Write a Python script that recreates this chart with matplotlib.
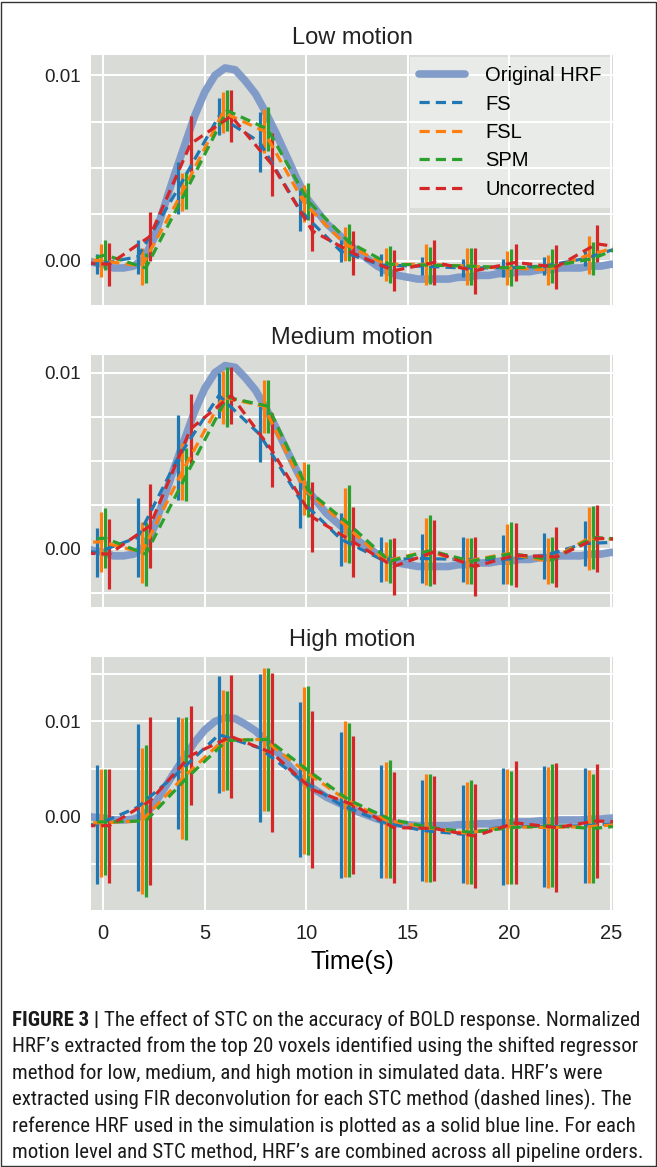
import numpy as np
import matplotlib
matplotlib.use('Agg')
import matplotlib.pyplot as plt
from matplotlib.patches import Rectangle

plt.rcParams['font.family'] = ['Liberation Sans', 'DejaVu Sans']

# FIR time points (s); points at -2 and 26 only show as line ends past the edges
t = [-2, 0, 2, 4, 6, 8, 10, 12, 14, 16, 18, 20, 22, 24, 26]
offsets = [-0.3, -0.1, 0.1, 0.3]
methods = ['FS', 'FSL', 'SPM', 'Uncorrected']
colors = ['#1f77b4', '#ff7f0e', '#2ca02c', '#d62728']

# reference HRF, read every 0.5 s from -1 to 25.5
hrf_t = np.arange(-1.0, 25.51, 0.5)
hrf = [0.0001, -0.0001, -0.0002, -0.0004, -0.0004, -0.0003, 0.0001, 0.0012,
       0.0029, 0.0046, 0.0062, 0.0078, 0.0091, 0.0100, 0.0104, 0.0103,
       0.0097, 0.0090, 0.0080, 0.0069, 0.0057, 0.0045, 0.0034, 0.0027,
       0.0020, 0.0015, 0.0010, 0.0005, 0.0001, -0.0003, -0.0006, -0.0008,
       -0.0009, -0.0010, -0.0010, -0.0010, -0.0010, -0.0009, -0.0009, -0.0008,
       -0.0008, -0.0007, -0.0007, -0.0006, -0.0006, -0.0005, -0.0005, -0.0004,
       -0.0004, -0.0004, -0.0003, -0.0003, -0.0002, -0.0002]

# low motion
low_fs = [0.00025, -0.0002, 0.0002, 0.0039, 0.0078, 0.0064, 0.0027, 0.0005, -0.00025, -0.0003, -0.0004, -0.0004, -0.0003, 0.0001, 0.0008]
low_fs_err = [0.0006, 0.00055, 0.0009, 0.0014, 0.001, 0.0016, 0.0011, 0.0006, 0.0006, 0.0005, 0.0005, 0.0005, 0.0005, 0.0004, 0.0005]
low_fsl = [0.0001, 0.0, -0.0003, 0.0037, 0.0080, 0.0070, 0.0031, 0.0009, -0.0002, -0.0002, -0.0003, -0.0004, -0.0005, 0.0003, 0.0009]
low_fsl_err = [0.0009, 0.0009, 0.001, 0.00105, 0.0011, 0.0012, 0.001, 0.0009, 0.0009, 0.0011, 0.001, 0.0009, 0.0008, 0.001, 0.001]
low_spm = [-0.0003, 0.0003, -0.0004, 0.0038, 0.0081, 0.0071, 0.0032, 0.001, -0.0002, -0.00025, -0.0003, -0.0004, -0.0003, 0.0001, 0.0010]
low_spm_err = [0.0008, 0.0008, 0.0008, 0.001, 0.0011, 0.0012, 0.001, 0.001, 0.001, 0.001, 0.001, 0.001, 0.0009, 0.0009, 0.0009]
low_unc = [-0.0001, -0.0002, 0.0013, 0.0063, 0.0078, 0.0052, 0.0016, 0.0004, -0.00055, -0.0001, -0.00055, -0.0001, -0.00035, 0.0009, 0.0006]
low_unc_err = [0.0012, 0.00116, 0.0013, 0.0015, 0.0014, 0.0017, 0.0011, 0.0012, 0.0011, 0.0012, 0.00125, 0.001, 0.0012, 0.001, 0.001]

# medium motion
med_fs = [0.0, -0.0002, 0.00065, 0.0052, 0.0087, 0.0065, 0.0028, 0.00055, -0.0006, -0.00055, -0.0006, -0.0006, -0.0004, 0.0003, 0.0004]
med_fs_err = [0.0014, 0.0014, 0.00225, 0.0024, 0.0013, 0.0016, 0.0016, 0.0015, 0.0013, 0.0014, 0.0013, 0.0014, 0.0013, 0.0013, 0.0013]
med_fsl = [0.0003, 0.0004, -0.0002, 0.0044, 0.0086, 0.0081, 0.0034, 0.00135, -0.0007, -0.00015, -0.0007, -0.00027, -0.0007, 0.0006, 0.0005]
med_fsl_err = [0.0017, 0.0017, 0.00175, 0.0016, 0.0015, 0.0015, 0.0015, 0.0021, 0.0011, 0.0019, 0.0013, 0.0017, 0.0013, 0.0018, 0.0018]
med_spm = [0.0005, 0.0006, -0.0003, 0.0042, 0.0086, 0.0081, 0.0033, 0.0014, -0.0007, -0.0001, -0.0007, -0.00027, -0.00063, 0.00065, 0.0005]
med_spm_err = [0.0017, 0.0017, 0.0018, 0.0015, 0.0017, 0.0015, 0.0015, 0.0022, 0.00125, 0.002, 0.0013, 0.0018, 0.0013, 0.0018, 0.0018]
med_unc = [-0.0002, -0.0003, 0.0013, 0.0068, 0.0087, 0.0056, 0.0018, 0.0004, -0.001, -0.00017, -0.001, -0.00036, -0.00046, 0.0006, 0.0005]
med_unc_err = [0.002, 0.002, 0.0024, 0.002, 0.0016, 0.0021, 0.002, 0.002, 0.0016, 0.0018, 0.0017, 0.0018, 0.0017, 0.0019, 0.0019]

# high motion
high_fs = [-0.0009, -0.0009, 0.00095, 0.0046, 0.0086, 0.0072, 0.0039, 0.0012, -0.00057, -0.0015, -0.0019, -0.0011, -0.0011, -0.001, -0.0007]
high_fs_err = [0.0063, 0.0063, 0.0088, 0.0059, 0.0062, 0.0078, 0.0082, 0.0077, 0.006, 0.0053, 0.0052, 0.0062, 0.0064, 0.0061, 0.006]
high_fsl = [-0.0007, -0.0007, -0.0005, 0.004, 0.008, 0.0081, 0.0048, 0.0018, -0.0004, -0.0012, -0.0018, -0.0011, -0.0012, -0.0011, -0.0008]
high_fsl_err = [0.0057, 0.0057, 0.0077, 0.0064, 0.0053, 0.0075, 0.0088, 0.0082, 0.0061, 0.0057, 0.0054, 0.0061, 0.0064, 0.006, 0.006]
high_spm = [-0.0006, -0.0006, -0.0005, 0.004, 0.008, 0.0081, 0.0048, 0.0017, -0.0003, -0.0012, -0.0017, -0.0012, -0.001, -0.0013, -0.0009]
high_spm_err = [0.0056, 0.0056, 0.008, 0.0065, 0.0052, 0.0075, 0.0089, 0.0081, 0.0062, 0.0057, 0.0055, 0.006, 0.0065, 0.0058, 0.006]
high_unc = [-0.001, -0.001, 0.0016, 0.0064, 0.0084, 0.0067, 0.0028, 0.0012, -0.0012, -0.0013, -0.0021, -0.0007, -0.0012, -0.0005, -0.0007]
high_unc_err = [0.006, 0.006, 0.0089, 0.0052, 0.0065, 0.0084, 0.0083, 0.0073, 0.0059, 0.0055, 0.0055, 0.0065, 0.0068, 0.006, 0.006]

titles = ['Low motion', 'Medium motion', 'High motion']
panel_means = [[low_fs, low_fsl, low_spm, low_unc],
               [med_fs, med_fsl, med_spm, med_unc],
               [high_fs, high_fsl, high_spm, high_unc]]
panel_errs = [[low_fs_err, low_fsl_err, low_spm_err, low_unc_err],
              [med_fs_err, med_fsl_err, med_spm_err, med_unc_err],
              [high_fs_err, high_fsl_err, high_spm_err, high_unc_err]]
ylims = [(-0.0024, 0.0111), (-0.0033, 0.0110), (-0.0099, 0.0168)]
yticks = [[0, 0.0025, 0.005, 0.0075, 0.01],
          [-0.0025, 0, 0.0025, 0.005, 0.0075, 0.01],
          [-0.005, 0, 0.005, 0.01, 0.015]]

bg = '#d8dbd6'
W, H = 657, 1167
fig = plt.figure(figsize=(W / 100, H / 100), dpi=100)

boxes = [(55, 305), (355, 607), (657, 910)]
tt = np.array(t, dtype=float)

for i, (top, bot) in enumerate(boxes):
    ax = fig.add_axes([91 / W, 1 - bot / H, (613 - 91) / W, (bot - top) / H])
    ax.set_facecolor(bg)
    for s in ax.spines.values():
        s.set_visible(False)
    ax.grid(True, color='white', lw=1.4)
    ax.set_axisbelow(True)

    ax.plot(hrf_t, hrf, color='#7d98c9', lw=5.5, alpha=0.95, solid_capstyle='round',
            solid_joinstyle='round', label='Original HRF', zorder=2)
    for k in range(4):
        xk = tt + offsets[k]
        ax.errorbar(xk, panel_means[i][k], yerr=panel_errs[i][k], fmt='none',
                    ecolor=colors[k], elinewidth=2.3, capsize=0, zorder=3)
    for k in range(4):
        xk = tt + offsets[k]
        ax.plot(xk, panel_means[i][k], color=colors[k], lw=2.3, ls=(0, (3.2, 1.9)),
                label=methods[k], zorder=4)

    ax.set_xlim(-0.6, 25.1)
    ax.set_ylim(*ylims[i])
    ax.set_xticks([0, 5, 10, 15, 20, 25])
    ax.set_yticks(yticks[i])
    ax.set_yticklabels(['0.00' if v == 0 else ('0.01' if v == 0.01 else '') for v in yticks[i]])
    ax.tick_params(length=0, labelsize=13.5, colors='#222222', pad=7)
    if i < 2:
        ax.set_xticklabels([])
    else:
        ax.tick_params(axis='x', labelsize=14.5, pad=10)
        ax.set_xlabel('Time(s)', fontsize=18, labelpad=5)
    ax.set_title(titles[i], fontsize=17, pad=8, color='#222222')

    if i == 0:
        leg = ax.legend(loc='upper right', fontsize=14.5, frameon=True, fancybox=False,
                        borderaxespad=0.1, handlelength=2.3, handletextpad=1.0,
                        labelspacing=0.47, borderpad=0.45)
        leg.get_frame().set_facecolor('white')
        leg.get_frame().set_alpha(0.45)
        leg.get_frame().set_edgecolor('none')

# caption
cap_font = ['Roboto Condensed', 'Liberation Sans Narrow', 'Liberation Sans', 'DejaVu Sans']
cap_lines = [
    'The effect of STC on the accuracy of BOLD response. Normalized',
    'HRF\u2019s extracted from the top 20 voxels identified using the shifted regressor',
    'method for low, medium, and high motion in simulated data. HRF\u2019s were',
    'extracted using FIR deconvolution for each STC method (dashed lines). The',
    'reference HRF used in the simulation is plotted as a solid blue line. For each',
    'motion level and STC method, HRF\u2019s are combined across all pipeline orders.',
]
x0 = 12 / W
y_first = 1020
step = 26.5
max_w = 636

# measure at a trial size, then scale so the widest line fits the frame
trial = 14
r = fig.canvas.get_renderer()
tb = fig.text(0, 0, 'FIGURE 3 | ', fontsize=trial, fontweight='bold', family=cap_font)
widths = [tb.get_window_extent(r).width + fig.text(0, 0, cap_lines[0], fontsize=trial, family=cap_font).get_window_extent(r).width]
for ln in cap_lines[1:]:
    widths.append(fig.text(0, 0, ln, fontsize=trial, family=cap_font).get_window_extent(r).width)
for tx in list(fig.texts):
    tx.remove()
cap_size = trial * max_w / max(widths)

bold = fig.text(x0, 1 - y_first / H, 'FIGURE 3 | ', fontsize=cap_size, fontweight='bold',
                family=cap_font, va='center', ha='left', color='#1a1a1a')
bb = bold.get_window_extent(r)
fig.text(bb.x1 / W, 1 - y_first / H, cap_lines[0], fontsize=cap_size, family=cap_font,
         va='center', ha='left', color='#1a1a1a')
for j in range(1, len(cap_lines)):
    fig.text(x0, 1 - (y_first + j * step) / H, cap_lines[j], fontsize=cap_size,
             family=cap_font, va='center', ha='left', color='#1a1a1a')

fig.patches.append(Rectangle((0.001, 0.001), 0.997, 0.997, transform=fig.transFigure,
                             fill=False, edgecolor='#333333', lw=1))

fig.savefig('out.png', dpi=100)
